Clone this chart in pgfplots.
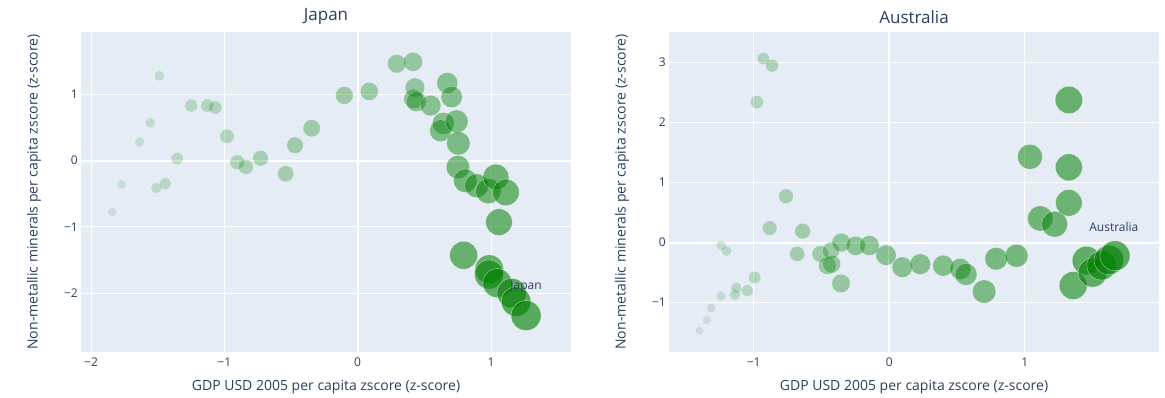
\documentclass[border=0pt]{standalone}
\usepackage{pgfplots}
\pgfplotsset{compat=1.18}
\usepackage{pgfplotstable}
\usepackage{fontspec}
\setmainfont{Open Sans}
\definecolor{plotbg}{HTML}{E5ECF6}
\definecolor{txt}{HTML}{2A3F5F}
\definecolor{mk}{RGB}{0,128,0}

\pgfplotstableread{
x y r a
-1.84 -0.78 4.3 0.12
-1.77 -0.36 4.6 0.13
-1.635 0.28 4.7 0.14
-1.556 0.57 5.0 0.15
-1.488 1.28 5.0 0.16
-1.51 -0.415 5.3 0.18
-1.443 -0.35 5.7 0.19
-1.353 0.03 6.0 0.20
-1.248 0.83 6.3 0.21
-1.128 0.83 6.4 0.22
-1.068 0.80 6.5 0.23
-0.98 0.367 7.0 0.24
-0.903 -0.025 7.2 0.25
-0.838 -0.095 7.4 0.26
-0.728 0.035 7.7 0.28
-0.54 -0.20 8.0 0.29
-0.47 0.23 8.2 0.30
-0.345 0.487 8.6 0.31
-0.10 0.983 8.8 0.32
0.087 1.043 9.0 0.33
0.293 1.46 9.2 0.34
0.415 1.49 9.5 0.35
0.43 1.10 9.7 0.36
0.42 0.93 9.9 0.38
0.44 0.89 10.0 0.39
0.547 0.83 10.3 0.40
0.672 1.17 10.5 0.41
0.705 0.96 10.7 0.42
0.642 0.56 11.0 0.43
0.622 0.45 11.0 0.44
0.742 0.59 11.5 0.45
0.755 0.26 11.7 0.46
0.752 -0.10 11.7 0.48
0.807 -0.305 11.8 0.49
0.892 -0.38 12.0 0.50
0.98 -0.46 12.7 0.51
1.037 -0.25 13.0 0.52
1.112 -0.48 13.3 0.53
1.06 -0.93 13.3 0.54
0.795 -1.43 14.0 0.55
0.987 -1.64 14.3 0.56
0.985 -1.72 14.5 0.58
1.047 -1.85 14.5 0.59
1.155 -2.00 14.7 0.60
1.188 -2.13 14.8 0.61
1.263 -2.34 15.0 0.62
}\japan

\pgfplotstableread{
x y r a
-1.40 -1.465 4.0 0.12
-1.345 -1.29 4.3 0.13
-1.315 -1.09 4.5 0.14
-1.24 -0.89 4.8 0.15
-1.239 -0.05 5.0 0.16
-1.20 -0.14 5.0 0.18
-1.138 -0.87 5.4 0.19
-1.128 -0.755 5.4 0.20
-1.047 -0.80 5.7 0.21
-0.993 -0.58 6.0 0.22
-0.976 2.335 6.5 0.23
-0.929 3.06 6.0 0.24
-0.865 2.94 6.3 0.25
-0.882 0.24 7.2 0.26
-0.762 0.77 7.3 0.28
-0.68 -0.19 7.5 0.29
-0.639 0.19 7.8 0.30
-0.509 -0.19 8.2 0.31
-0.43 -0.135 8.5 0.32
-0.457 -0.385 8.8 0.33
-0.425 -0.36 9.0 0.34
-0.356 -0.68 9.2 0.35
-0.354 0.0 9.3 0.36
-0.248 -0.055 9.6 0.38
-0.147 -0.05 9.9 0.39
-0.024 -0.21 10.2 0.40
0.096 -0.41 10.2 0.41
0.229 -0.36 10.3 0.42
0.398 -0.385 10.5 0.43
0.524 -0.44 10.6 0.44
0.566 -0.53 11.0 0.45
0.70 -0.815 11.7 0.46
0.789 -0.27 11.3 0.48
0.939 -0.22 11.5 0.49
1.038 1.425 12.5 0.50
1.114 0.40 12.7 0.51
1.22 0.305 13.0 0.52
1.325 0.66 13.3 0.53
1.325 1.25 13.5 0.54
1.325 2.37 13.7 0.55
1.357 -0.715 14.0 0.56
1.455 -0.30 14.3 0.58
1.50 -0.50 14.5 0.59
1.566 -0.38 14.7 0.60
1.62 -0.29 14.8 0.61
1.665 -0.22 15.0 0.62
}\australia

\pgfplotsset{
  bub/.style={
    scale only axis, width=490pt, height=320pt,
    axis background/.style={fill=plotbg},
    axis line style={draw=none},
    major tick length=0pt,
    grid=major, grid style={white, line width=1pt},
    tick label style={font=\fontsize{12}{14}\selectfont, text=txt},
    yticklabel style={anchor=east, inner sep=0pt, xshift=-3pt},
    xticklabel style={anchor=north, inner sep=0pt},
    xticklabel shift=5.5pt,
    label style={font=\fontsize{14}{16}\selectfont, text=txt},
    xlabel={GDP USD 2005 per capita zscore (z-score)},
    ylabel={Non-metallic minerals per capita zscore (z-score)},
    xlabel style={at={(axis description cs:0.5,-0.11)}, anchor=center},
    ylabel style={at={(axis description cs:-0.096,0.5)}, anchor=center},
    title style={font=\fontsize{17}{19}\selectfont, text=txt, at={(axis description cs:0.5,1.029)}, anchor=center, yshift=0pt},
  },
  bubplot/.style={only marks, scatter, mark=*,
    visualization depends on={\thisrow{r} \as \msize},
    visualization depends on={\thisrow{a} \as \mopac},
    scatter/use mapped color={draw=white, fill=mk},
    scatter/@pre marker code/.append style={/tikz/mark size=\msize pt, /tikz/line width=0.7pt},
    scatter/@pre marker code/.append code={%
      \pgfmathsetmacro{\mop}{\mopac}%
      \edef\tmpop{\noexpand\pgfsetfillopacity{\mop}\noexpand\pgfsetstrokeopacity{\mop}}%
      \tmpop},
  },
}

\begin{document}
\begin{tikzpicture}
\useasboundingbox (0,0) rectangle (1165pt,398pt);
\begin{axis}[bub, at={(81pt,46pt)}, anchor=south west, title={Japan},
  xmin=-2.075, xmax=1.60, ymin=-2.89, ymax=1.94,
  xtick={-2,-1,0,1}, xticklabels={−2,−1,0,1},
  ytick={-2,-1,0,1}, yticklabels={−2,−1,0,1}]
\draw[white, line width=2pt] (axis cs:0,-2.89) -- (axis cs:0,1.94);
\draw[white, line width=2pt] (axis cs:-2.075,0) -- (axis cs:1.60,0);
\addplot[bubplot] table[x=x, y=y] {\japan};
\coordinate (jl) at (axis cs:1.263,-1.90);
\end{axis}
\node[font=\fontsize{12}{14}\selectfont, text=txt] at (jl) {Japan};
\begin{axis}[bub, at={(669pt,46pt)}, anchor=south west, title={Australia},
  xmin=-1.625, xmax=1.99, ymin=-1.82, ymax=3.5,
  xtick={-1,0,1}, xticklabels={−1,0,1},
  ytick={-1,0,1,2,3}, yticklabels={−1,0,1,2,3}]
\draw[white, line width=2pt] (axis cs:0,-1.82) -- (axis cs:0,3.5);
\draw[white, line width=2pt] (axis cs:-1.625,0) -- (axis cs:1.99,0);
\addplot[bubplot] table[x=x, y=y] {\australia};
\coordinate (al) at (axis cs:1.657,0.26);
\end{axis}
\node[font=\fontsize{12}{14}\selectfont, text=txt] at (al) {Australia};
\end{tikzpicture}
\end{document}
